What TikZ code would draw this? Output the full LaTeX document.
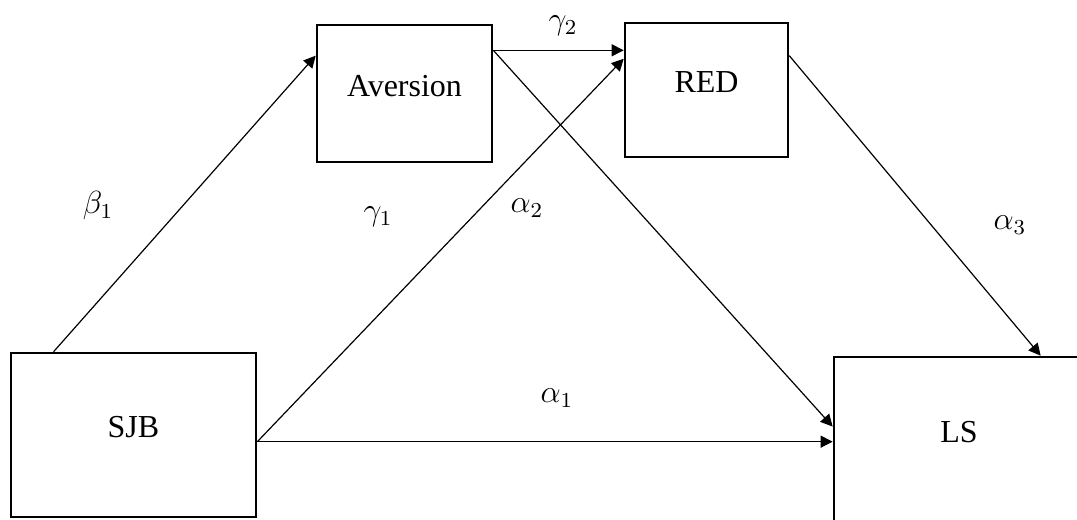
\documentclass[tikz,border=0pt]{standalone}
\usepackage{fontspec}
\setmainfont{Liberation Serif}
\usetikzlibrary{arrows.meta}

\begin{document}
\begin{tikzpicture}[
	x=0.375pt,y=-0.375pt,
	box/.style={draw=black,line width=1pt,inner sep=0pt,font=\fontsize{12}{14}\selectfont,text depth=6pt},
	path/.style={-{Triangle[length=4.5pt,width=4.5pt]},draw=black,line width=0.45pt},
	coef/.style={font=\fontsize{12}{14}\selectfont}]
	\useasboundingbox (0,0) rectangle (1077,520);
	\clip (0,0) rectangle (1077,520);
	% boxes
	\node[box,minimum width=91.9pt,minimum height=61.5pt] (sjb) at (133.5,435) {SJB};
	\node[box,minimum width=65.6pt,minimum height=51.4pt] (aversion) at (404.5,93.5) {Aversion};
	\node[box,minimum width=61.1pt,minimum height=50.25pt] (red) at (706.5,90) {RED};
	\node[box,minimum width=93.75pt,minimum height=62.25pt] (ls) at (959,440) {LS};
	% paths
	\draw[path] ([xshift=16.5pt]sjb.north west) -- ([yshift=-12pt]aversion.north west);
	\draw[path] ([yshift=-10pt]aversion.north east) -- ([yshift=-10pt]aversion.north east -| red.west);
	\draw[path] ([yshift=-10pt]aversion.north east) -- ([yshift=-26.6pt]ls.north west);
	\draw[path] ([yshift=-33.75pt]sjb.north east) -- ([yshift=-13.9pt]red.north west);
	\draw[path] ([yshift=-33.75pt]sjb.north east) -- ([yshift=-33.75pt]sjb.north east -| ls.west);
	\draw[path] ([yshift=-12.75pt]red.north east) -- ([xshift=78pt]ls.north west);
	% coefficients
	\node[coef] (b1) at (98,206) {$\beta_1$};
	\node[coef] (g1) at (378,217) {$\gamma_1$};
	\node[coef] (g2) at (563,26) {$\gamma_2$};
	\node[coef] (a1) at (557,398) {$\alpha_1$};
	\node[coef] (a2) at (527,208) {$\alpha_2$};
	\node[coef] (a3) at (1010,225) {$\alpha_3$};
\end{tikzpicture}
\end{document}
